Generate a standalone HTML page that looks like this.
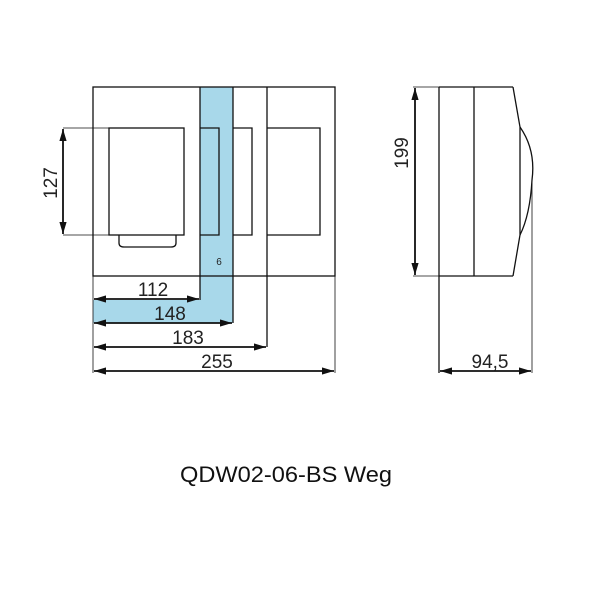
<!DOCTYPE html>
<html><head><style>body{margin:0;background:#fff}</style></head><body>
<svg width="604" height="600" viewBox="0 0 604 600" xmlns="http://www.w3.org/2000/svg" font-family="Liberation Sans, sans-serif">
<defs><marker id="a" viewBox="0 0 10 6" refX="10" refY="3" markerWidth="7" markerHeight="4" orient="auto-start-reverse"><path d="M0,0L10,3L0,6z" fill="#111"/></marker></defs>
<rect x="200" y="87" width="33" height="236" fill="#a8d8ea"/>
<rect x="93" y="300" width="140" height="23" fill="#a8d8ea"/>
<g fill="none" stroke="#111" stroke-width="1.3">
<rect x="93" y="87" width="242" height="189"/>
<line x1="200" y1="87" x2="200" y2="300"/>
<line x1="233" y1="87" x2="233" y2="323"/>
<line x1="267" y1="87" x2="267" y2="347"/>
<rect x="109" y="128" width="75" height="107"/>
<path d="M119,235 V243 Q119,247 124,247 H171 Q176,247 176,243 V235"/>
<polyline points="200,128 219,128 219,235 200,235"/>
<polyline points="233,128 252,128 252,235 233,235"/>
<polyline points="267,128 320,128 320,235 267,235"/>
<line x1="63" y1="128" x2="109" y2="128" stroke-width="0.8"/>
<line x1="63" y1="235" x2="109" y2="235" stroke-width="0.8"/>
<line x1="63" y1="129" x2="63" y2="234" stroke-width="1.8" marker-start="url(#a)" marker-end="url(#a)"/>
<line x1="93" y1="276" x2="93" y2="373" stroke-width="0.8"/>
<line x1="335" y1="276" x2="335" y2="373" stroke-width="0.8"/>
<line x1="94" y1="299" x2="199" y2="299" stroke-width="1.8" marker-start="url(#a)" marker-end="url(#a)"/>
<line x1="94" y1="323" x2="232" y2="323" stroke-width="1.8" marker-start="url(#a)" marker-end="url(#a)"/>
<line x1="94" y1="347" x2="266" y2="347" stroke-width="1.8" marker-start="url(#a)" marker-end="url(#a)"/>
<line x1="94" y1="371" x2="334" y2="371" stroke-width="1.8" marker-start="url(#a)" marker-end="url(#a)"/>
<line x1="439" y1="87" x2="439" y2="373" />
<line x1="474" y1="87" x2="474" y2="276"/>
<line x1="439" y1="87" x2="513" y2="87"/>
<line x1="439" y1="276" x2="513" y2="276"/>
<path d="M513,87 L520,127 L520,235 L513,276"/>
<path d="M520,127 Q536,150 532,180 Q530,215 520,235"/>
<line x1="532" y1="180" x2="532" y2="373" stroke-width="0.8"/>
<line x1="413" y1="87" x2="439" y2="87" stroke-width="0.8"/>
<line x1="413" y1="276" x2="439" y2="276" stroke-width="0.8"/>
<line x1="415" y1="88" x2="415" y2="275" stroke-width="1.8" marker-start="url(#a)" marker-end="url(#a)"/>
<line x1="440" y1="371" x2="531" y2="371" stroke-width="1.8" marker-start="url(#a)" marker-end="url(#a)"/>
</g>
<g fill="#222" font-size="19" text-anchor="middle">
<text x="153" y="296">112</text>
<text x="170" y="320">148</text>
<text x="188" y="344">183</text>
<text x="217" y="368">255</text>
<text x="490" y="368">94,5</text>
<text transform="translate(57,183) rotate(-90)">127</text>
<text transform="translate(408,153) rotate(-90)">199</text>
<text x="219" y="265" font-size="10">6</text>
</g>
<text x="180" y="482" font-size="22" textLength="212" lengthAdjust="spacingAndGlyphs" fill="#111">QDW02-06-BS Weg</text>
</svg>
</body></html>
